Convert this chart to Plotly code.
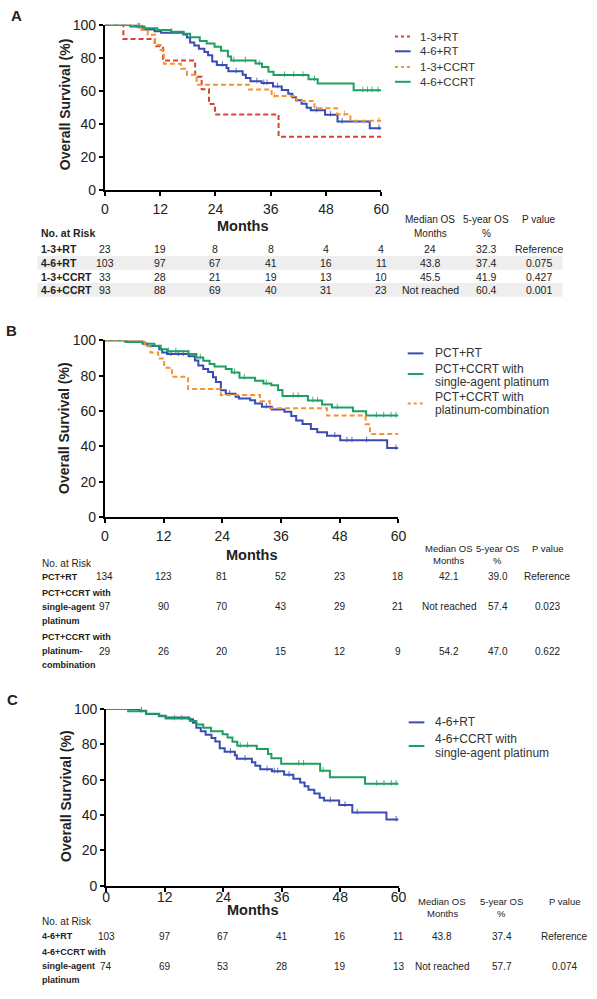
import plotly.graph_objects as go

FONT = "Liberation Sans, Arial, sans-serif"
NARROW = "Liberation Sans Narrow, Arial Narrow, Liberation Sans, Arial, sans-serif"
W, H = 597, 999
TXT = "#222222"

MONTH_TICKS = [0, 12, 24, 36, 48, 60]
SURV_TICKS = [0, 20, 40, 60, 80, 100]

RED, BLUE, ORANGE, GREEN = "#d8432e", "#3a4cb4", "#f39331", "#1e9f62"

# ---------------- Panel A curves (months, survival %) ----------------
A_13RT_T = [0, 4.0, 10.8, 12.6, 19.6, 21.0, 22.6, 23.9, 37.7]
A_13RT_S = [100, 91.3, 87.0, 78.3, 68.5, 61.0, 52.0, 45.7, 32.3]
A_13RT_CENS = []

RT46_T = [0, 6.8, 8.2, 10.8, 12.2, 17.0, 17.8, 18.5, 19.4, 20.4, 21.6, 22.4, 23.3, 24.3,
          26.4, 26.8, 29.9, 30.6, 31.6, 34.0, 36.5, 38.4, 39.8, 40.7, 41.5, 42.7, 43.8,
          44.7, 47.8, 50.5, 57.5]
RT46_S = [100, 99.0, 97.1, 96.1, 95.1, 94.1, 92.2, 89.3, 87.4, 85.4, 83.5, 81.6, 77.7, 75.7,
          73.8, 71.8, 69.8, 67.8, 65.8, 64.7, 62.7, 60.5, 58.3, 56.2, 54.3, 52.2, 49.8,
          48.2, 45.6, 41.4, 37.4]
RT46_CENS = [7.2, 25.5, 28.5, 33.0, 34.5, 35.2, 37.5, 46.0, 49.0, 51.5, 59.5]

A_13CCRT_T = [0, 7.9, 9.3, 10.9, 12.1, 12.8, 16.5, 17.8, 19.9, 31.3, 36.2, 41.6, 45.5, 50.4, 53.3]
A_13CCRT_S = [100, 97.0, 93.9, 87.8, 84.7, 76.4, 73.3, 69.8, 63.7, 60.8, 56.9, 53.9, 49.5, 45.9, 41.9]
A_13CCRT_CENS = [36.8, 52.0, 59.5]

A_46CCRT_T = [0, 5.5, 8.6, 11.4, 14.3, 17.1, 18.5, 20.6, 22.1, 23.8, 25.2, 26.7, 27.4, 32.7,
              34.1, 35.5, 36.6, 44.2, 46.2, 54.0]
A_46CCRT_S = [100, 98.9, 97.8, 96.8, 95.7, 94.6, 92.4, 90.2, 88.6, 86.7, 84.3, 80.8, 78.4, 76.5,
              74.5, 71.6, 69.6, 67.0, 64.5, 60.4]
A_46CCRT_CENS = [7.5, 14.5, 28.0, 30.5, 33.5, 39.0, 41.0, 43.0, 45.5, 56.0, 57.0, 58.0, 59.3]

# ---------------- Panel B curves ----------------
B_RT_T = [0, 4.1, 7.7, 8.7, 11.1, 11.7, 12.7, 17.1, 18.4, 19.1, 20.1, 21.1, 22.1, 22.7, 23.7,
          24.7, 26.7, 27.4, 29.7, 30.7, 32.1, 34.1, 36.7, 38.1, 39.1, 40.4, 42.1, 43.4, 45.4,
          48.1, 57.7]
B_RT_S = [100, 99.3, 98.1, 96.8, 95.0, 93.1, 92.2, 90.9, 88.5, 85.7, 83.8, 82.0, 79.1, 76.4, 71.7,
          69.8, 68.0, 67.0, 66.1, 64.2, 62.4, 60.9, 59.6, 57.2, 54.6, 52.7, 49.8, 47.9, 46.0,
          43.4, 39.0]
B_RT_CENS = [13.5, 15.0, 16.0, 25.5, 33.0, 47.0, 49.5, 50.5, 53.5, 59.5]

B_SA_T = [0, 4.4, 8.1, 10.1, 11.4, 12.7, 17.1, 18.7, 20.1, 21.4, 22.4, 24.7, 25.9, 27.5, 30.7,
          32.4, 34.0, 35.4, 36.3, 41.5, 44.4, 46.4, 50.7, 53.4]
B_SA_S = [100, 99.0, 98.0, 96.9, 95.0, 93.8, 92.2, 90.3, 88.4, 86.6, 85.1, 83.8, 81.8, 78.8, 77.1,
          75.6, 74.6, 71.9, 68.5, 66.0, 63.6, 62.0, 59.8, 57.4]
B_SA_CENS = [13.0, 14.5, 19.5, 26.5, 28.5, 33.0, 38.5, 39.5, 42.5, 43.5, 47.5, 55.5, 57.0, 58.5, 59.5]

B_PC_T = [0, 8.1, 9.3, 10.9, 12.1, 13.7, 17.0, 23.7, 31.7, 33.7, 45.4, 53.3, 54.2]
B_PC_S = [100, 96.6, 93.1, 89.7, 84.5, 79.3, 72.4, 69.0, 65.5, 61.6, 57.4, 52.5, 47.0]
B_PC_CENS = []

# ---------------- Panel C curves (4-6+RT reused) ----------------
C_SA_T = [0, 4.5, 8.2, 10.9, 12.2, 17.2, 18.5, 19.9, 21.5, 23.9, 24.9, 25.9, 26.9, 30.9, 33.2,
          33.9, 35.9, 43.9, 45.9, 53.1]
C_SA_S = [100, 98.6, 97.3, 95.9, 94.6, 93.2, 91.2, 89.4, 87.4, 85.7, 83.8, 81.4, 79.1, 77.3, 74.5,
          72.1, 69.0, 65.0, 61.3, 57.7]
C_SA_CENS = [14.0, 15.5, 27.5, 29.0, 39.5, 40.5, 44.5, 55.5, 57.0, 58.5, 59.5]

# ---------------- Tables ----------------
A_LABELS = ["1-3+RT", "4-6+RT", "1-3+CCRT", "4-6+CCRT"]
A_RISK = [[23, 19, 8, 8, 4, 4], [103, 97, 67, 41, 16, 11], [33, 28, 21, 19, 13, 10],
          [93, 88, 69, 40, 31, 23]]
A_MEDIAN = ["24", "43.8", "45.5", "Not reached"]
A_FIVE = ["32.3", "37.4", "41.9", "60.4"]
A_P = ["Reference", "0.075", "0.427", "0.001"]

B_LABELS = ["PCT+RT", "PCT+CCRT with\nsingle-agent\nplatinum", "PCT+CCRT with\nplatinum-\ncombination"]
B_RISK = [[134, 123, 81, 52, 23, 18], [97, 90, 70, 43, 29, 21], [29, 26, 20, 15, 12, 9]]
B_MEDIAN = ["42.1", "Not reached", "54.2"]
B_FIVE = ["39.0", "57.4", "47.0"]
B_P = ["Reference", "0.023", "0.622"]

C_LABELS = ["4-6+RT", "4-6+CCRT with\nsingle-agent\nplatinum"]
C_RISK = [[103, 97, 67, 41, 16, 11], [74, 69, 53, 28, 19, 13]]
C_MEDIAN = ["43.8", "Not reached"]
C_FIVE = ["37.4", "57.7"]
C_P = ["Reference", "0.074"]


def px(x):
    return x / W


def py(y):
    return 1 - y / H


def step_at(t, s, x):
    v = s[0]
    for ti, si in zip(t, s):
        if ti <= x:
            v = si
    return v


fig = go.Figure()
ann = []
shapes = []


def add_curve(t, s, cens, color, dash, name, xa, ya):
    xs = list(t) + [60]
    ys = list(s) + [s[-1]]
    fig.add_trace(go.Scatter(x=xs, y=ys, mode="lines", line_shape="hv", name=name,
                             line=dict(color=color, width=2, dash=dash),
                             xaxis=xa, yaxis=ya, showlegend=False, hoverinfo="skip"))
    if cens:
        fig.add_trace(go.Scatter(x=cens, y=[step_at(t, s, c) + 0.5 for c in cens], mode="markers",
                                 marker=dict(symbol="line-ns", size=4, line=dict(width=1, color=color)),
                                 xaxis=xa, yaxis=ya, showlegend=False, hoverinfo="skip",
                                 cliponaxis=False, opacity=0.8))


DASH = "5px,3px"
panels = {
    "A": dict(xa="x", ya="y", curves=[
        (A_13RT_T, A_13RT_S, A_13RT_CENS, RED, DASH, "1-3+RT"),
        (RT46_T, RT46_S, RT46_CENS, BLUE, "solid", "4-6+RT"),
        (A_13CCRT_T, A_13CCRT_S, A_13CCRT_CENS, ORANGE, DASH, "1-3+CCRT"),
        (A_46CCRT_T, A_46CCRT_S, A_46CCRT_CENS, GREEN, "solid", "4-6+CCRT")]),
    "B": dict(xa="x2", ya="y2", curves=[
        (B_RT_T, B_RT_S, B_RT_CENS, BLUE, "solid", "PCT+RT"),
        (B_SA_T, B_SA_S, B_SA_CENS, GREEN, "solid", "PCT+CCRT with single-agent platinum"),
        (B_PC_T, B_PC_S, B_PC_CENS, ORANGE, DASH, "PCT+CCRT with platinum-combination")]),
    "C": dict(xa="x3", ya="y3", curves=[
        (RT46_T, RT46_S, RT46_CENS, BLUE, "solid", "4-6+RT"),
        (C_SA_T, C_SA_S, C_SA_CENS, GREEN, "solid", "4-6+CCRT with single-agent platinum")]),
}
for p in panels.values():
    for (t, s, c, col, dsh, nm) in p["curves"]:
        add_curve(t, s, c, col, dsh, nm, p["xa"], p["ya"])


# ---------------- axes ----------------
def xax(x0, x1, anchor, standoff):
    return dict(domain=[px(x0), px(x1)], range=[0, 60], tickvals=MONTH_TICKS, anchor=anchor,
                showline=True, linecolor="black", linewidth=2, ticks="outside", ticklen=4,
                tickwidth=1.5, tickcolor="black", showgrid=False, zeroline=False,
                tickfont=dict(size=14, color=TXT, family=FONT), ticklabelstandoff=standoff)


def yax(y_top, y_bot, anchor):
    return dict(domain=[py(y_bot), py(y_top)], range=[0, 100], tickvals=SURV_TICKS, anchor=anchor,
                showline=True, linecolor="black", linewidth=2, ticks="outside", ticklen=4,
                tickwidth=1.5, tickcolor="black", showgrid=False, zeroline=False,
                tickfont=dict(size=14, color=TXT, family=FONT))


layout_axes = dict(
    xaxis=xax(103, 385, "y", 1), yaxis=yax(17, 185, "x"),
    xaxis2=xax(103, 402.5, "y2", 1), yaxis2=yax(337.7, 517.3, "x2"),
    xaxis3=xax(104.3, 402.7, "y3", -7), yaxis3=yax(712.3, 892, "x3"),
)


def text(x, y, s, size=10, bold=False, xanchor="center", xref="paper", angle=0, color=TXT,
         family=FONT):
    ann.append(dict(x=x if xref != "paper" else px(x), y=py(y), xref=xref, yref="paper",
                    text=f"<b>{s}</b>" if bold else s, showarrow=False, xanchor=xanchor,
                    yanchor="middle", textangle=angle,
                    font=dict(size=size, color=color, family=family)))


# panel letters
text(13, 8, "A", 15, True)
text(8, 328, "B", 15, True)
text(9, 703, "C", 15, True)

# axis titles
for (yc, xc) in [(97.5, 62.5), (427, 61), (800.5, 62.5)]:
    text(xc, yc, "Overall Survival (%)", 14, True, angle=-90)
text(244, 221.5, "Months", 14.5, True)
text(253, 556, "Months", 14.5, True)
text(254, 917, "Months", 14.5, True)


# legends
def legend(entries, lx0, lx1, tx, size):
    for (name, color, dash, lines_y, sample_y) in entries:
        shapes.append(dict(type="line", xref="paper", yref="paper", x0=px(lx0), x1=px(lx1),
                           y0=py(sample_y), y1=py(sample_y),
                           line=dict(color=color, width=2, dash=dash)))
        for ln, yy in zip(name.split("\n"), lines_y):
            text(tx, yy, ln, size, xanchor="left", color="#333333")


legend([("1-3+RT", RED, "3px,3px", [29], 29), ("4-6+RT", BLUE, "solid", [44], 44),
        ("1-3+CCRT", ORANGE, "3px,3px", [60], 60), ("4-6+CCRT", GREEN, "solid", [75], 75)],
       399, 415, 423, 11.5)
legend([("PCT+RT", BLUE, "solid", [351], 351),
        ("PCT+CCRT with\nsingle-agent platinum", GREEN, "solid", [367, 380.5], 372),
        ("PCT+CCRT with\nplatinum-combination", ORANGE, "3px,3px", [395.5, 409], 402)],
       412, 428, 438, 12)
legend([("4-6+RT", BLUE, "solid", [726], 726),
        ("4-6+CCRT with\nsingle-agent platinum", GREEN, "solid", [743, 757], 750)],
       413, 429, 438, 12)


# tables
def table(xref, lab_x, nar_y, nar_bold, labels, risk, med, five, pv, row_y, gap, cols,
          hdr1, hdr2, size, lab_size, lab_family, shade_rows=()):
    for r in shade_rows:
        shapes.append(dict(type="rect", xref="paper", yref="paper", x0=px(34), x1=px(570),
                           y0=py(row_y[r] + 7), y1=py(row_y[r] - 7),
                           fillcolor="#eeeeee", line=dict(width=0), layer="below"))
    text(lab_x, nar_y, "No. at Risk", size, nar_bold, xanchor="left")
    text(cols[0], hdr1, "Median OS", size - 0.5)
    text(cols[0], hdr2, "Months", size - 0.5)
    text(cols[1], hdr1, "5-year OS", size - 0.5)
    text(cols[1], hdr2, "%", size - 0.5)
    text(cols[2], hdr1, "P value", size - 0.5)
    for i, lab in enumerate(labels):
        parts = lab.split("\n")
        for j, part in enumerate(parts):
            text(lab_x, row_y[i] + (j - (len(parts) - 1) / 2) * gap, part, lab_size, True,
                 xanchor="left", family=lab_family)
        for k, v in enumerate(risk[i]):
            text(MONTH_TICKS[k], row_y[i], str(v), size, xref=xref)
        text(cols[0], row_y[i], med[i], size)
        text(cols[1], row_y[i], five[i], size)
        text(cols[2], row_y[i], pv[i], size)


table("x", 36, 228.5, True, A_LABELS, A_RISK, A_MEDIAN, A_FIVE, A_P,
      [244.5, 259, 273, 286.5], 14, [435, 492, 546], 214.5, 229.5, 10.5, 10.5, FONT,
      shade_rows=(1, 3))
table("x2", 37, 564.7, False, B_LABELS, B_RISK, B_MEDIAN, B_FIVE, B_P,
      [578, 608.5, 653.6], 14.2, [454, 504, 555], 549.4, 562, 10, 9, NARROW)
table("x3", 37, 928.5, False, C_LABELS, C_RISK, C_MEDIAN, C_FIVE, C_P,
      [943.3, 974], 14.3, [447, 508, 572], 908.2, 920.4, 10, 9, NARROW)

fig.update_layout(width=W, height=H, margin=dict(l=0, r=0, t=0, b=0),
                  paper_bgcolor="white", plot_bgcolor="white", showlegend=False,
                  font=dict(family=FONT, color=TXT), annotations=ann, shapes=shapes,
                  **layout_axes)

fig.write_html("out.html", config={"displayModeBar": False},
               post_script="document.body.style.margin='0';document.body.style.overflow='hidden';")
